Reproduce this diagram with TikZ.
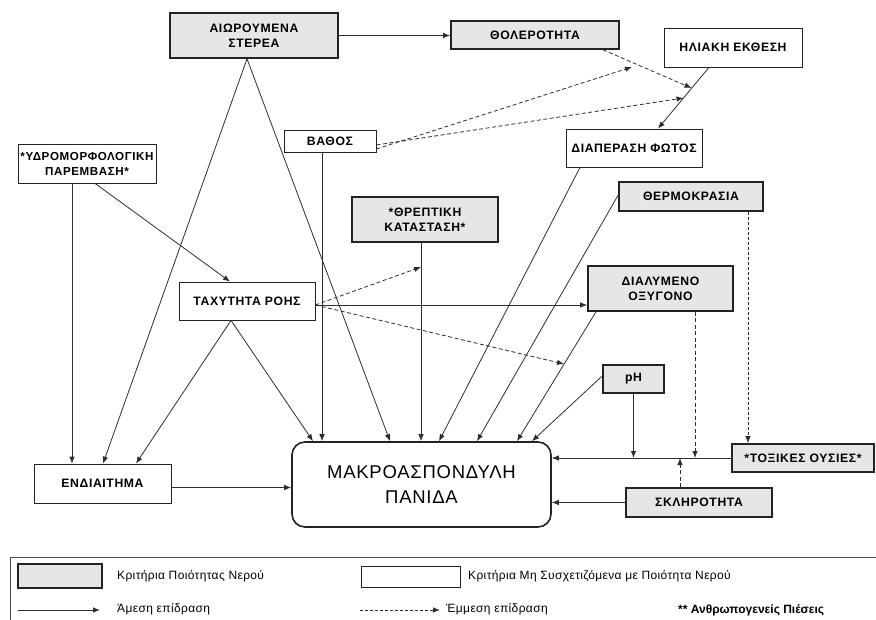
\documentclass[tikz,border=0pt]{standalone}
\usepackage{fontspec}
\setmainfont{Liberation Sans}
\newfontfamily\boxfont[LetterSpace=5.0]{Liberation Sans}
\newfontfamily\bigfont[LetterSpace=4.0]{Liberation Sans}
\newfontfamily\keyfont[LetterSpace=3.0]{Liberation Sans}
\usetikzlibrary{arrows.meta}

\definecolor{qgray}{RGB}{230,230,230}
\definecolor{edge}{RGB}{35,35,35}
\definecolor{wire}{RGB}{45,45,45}

\tikzset{
  qbox/.style={draw=edge, line width=1.6pt, fill=qgray, inner sep=0pt, align=center,
    font=\boxfont\bfseries\fontsize{12.2}{15}\selectfont},
  obox/.style={draw=edge, line width=0.8pt, fill=white, inner sep=0pt, align=center,
    font=\boxfont\bfseries\fontsize{12.2}{15}\selectfont},
  link/.style={draw=wire, line width=0.8pt, -{Latex[length=7pt,width=5.5pt]}},
  ilink/.style={link, dash pattern=on 4pt off 2.5pt},
  keytext/.style={anchor=west, inner sep=0pt, font=\keyfont\fontsize{12}{14}\selectfont}
}

\begin{document}
\begin{tikzpicture}[x=1pt,y=-1pt]
\useasboundingbox (0,0) rectangle (876,620);

% ---- criteria boxes ----
\node[qbox, minimum width=168pt, minimum height=45pt] (aio) at (254,35.5) {ΑΙΩΡΟΥΜΕΝΑ\\ΣΤΕΡΕΑ};
\node[qbox, minimum width=168pt, minimum height=28pt] (thol) at (535,35) {ΘΟΛΕΡΟΤΗΤΑ};
\node[obox, minimum width=138pt, minimum height=39pt] (ilia) at (733,47.5) {ΗΛΙΑΚΗ ΕΚΘΕΣΗ};
\node[obox, minimum width=92pt, minimum height=22pt] (vath) at (330,141) {ΒΑΘΟΣ};
\node[obox, minimum width=138pt, minimum height=39pt, font=\boxfont\bfseries\fontsize{11.6}{15}\selectfont] (ydro) at (87,163.5) {*ΥΔΡΟΜΟΡΦΟΛΟΓΙΚΗ\\ΠΑΡΕΜΒΑΣΗ*};
\node[obox, minimum width=136pt, minimum height=38pt] (diap) at (634,148) {ΔΙΑΠΕΡΑΣΗ ΦΩΤΟΣ};
\node[qbox, minimum width=144pt, minimum height=29pt] (therm) at (691,196.5) {ΘΕΡΜΟΚΡΑΣΙΑ};
\node[qbox, minimum width=146pt, minimum height=45pt] (threp) at (425,219.5) {*ΘΡΕΠΤΙΚΗ\\ΚΑΤΑΣΤΑΣΗ*};
\node[obox, minimum width=136pt, minimum height=38pt] (tax) at (247,301) {ΤΑΧΥΤΗΤΑ ΡΟΗΣ};
\node[qbox, minimum width=145pt, minimum height=45pt] (dial) at (660.5,288.5) {ΔΙΑΛΥΜΕΝΟ\\ΟΞΥΓΟΝΟ};
\node[qbox, minimum width=61pt, minimum height=28pt] (ph) at (633.5,379) {pH};
\node[qbox, minimum width=142pt, minimum height=28pt] (tox) at (803,458) {*ΤΟΞΙΚΕΣ ΟΥΣΙΕΣ*};
\node[qbox, minimum width=146pt, minimum height=29pt] (skl) at (699,502.5) {ΣΚΛΗΡΟΤΗΤΑ};
\node[obox, minimum width=137pt, minimum height=39pt] (end) at (102.5,483.5) {ΕΝΔΙΑΙΤΗΜΑ};
\node[draw=edge, line width=1.6pt, fill=white, rounded corners=13pt, inner sep=0pt, align=center,
  minimum width=259pt, minimum height=85pt,
  font=\bigfont\fontsize{18.5}{25}\selectfont] (makro) at (421.5,484.5) {ΜΑΚΡΟΑΣΠΟΝΔΥΛΗ\\ΠΑΝΙΔΑ};

% ---- points where arrows meet other connectors ----
\coordinate (onLightA) at (691.5,88);
\coordinate (onLightB) at (683.5,98);
\coordinate (onTurb) at (632,67);
\coordinate (onNutr) at (421,267);
\coordinate (onOxy) at (564,364);
\coordinate (onToxPh) at (633.5,458);
\coordinate (onToxOx) at (695,458);
\coordinate (onToxHard) at (680,458);

% ---- direct effects ----
\draw[link] (aio.east) -- (aio.east -| thol.west);
\draw[link] ([xshift=-7pt]aio.south) -- ([xshift=0.5pt]end.north);
\draw[link] ([xshift=-7pt]aio.south) -- ([xshift=-31.5pt]makro.north);
\draw[link] ([xshift=-15pt]ydro.south) -- ([xshift=-30.5pt]end.north);
\draw[link] ([xshift=8pt]ydro.south) -- ([xshift=-17pt]tax.north);
\draw[link] ([xshift=-16pt]tax.south) -- ([xshift=33.5pt]end.north);
\draw[link] ([xshift=-16pt]tax.south) -- ([xshift=-108.5pt]makro.north);
\draw[link] ([xshift=-8pt]vath.south) -- ([xshift=-99.5pt]makro.north);
\draw[link] ([xshift=-24pt]ilia.south) -- ([xshift=24pt]diap.north);
\draw[link] ([xshift=-54pt]diap.south) -- ([xshift=17.5pt]makro.north);
\draw[link] ([yshift=1.5pt]therm.west) -- ([xshift=55.5pt]makro.north);
\draw[link] ([yshift=-4pt]tax.east) -- ([yshift=-4pt]tax.east -| dial.west);
\draw[link] ([xshift=-4pt]threp.south) -- ([xshift=-0.5pt]makro.north);
\draw[link] ([xshift=-64.5pt]dial.south) -- ([xshift=95.5pt]makro.north);
\draw[link] ([yshift=3pt]ph.west) -- ([xshift=110.5pt]makro.north);
\draw[link] (ph.south) -- (onToxPh);
\draw[link] (tox.west) -- (tox.west -| makro.east);
\draw[link] (skl.west) -- (skl.west -| makro.east);
\draw[link] ([yshift=-4pt]end.east) -- ([yshift=-4pt]end.east -| makro.west);

% ---- indirect effects ----
\draw[ilink] ([yshift=-8pt]vath.east) -- (onTurb);
\draw[ilink] ([yshift=-4pt]vath.east) -- (onLightB);
\draw[ilink] ([xshift=68pt]thol.south) -- (onLightA);
\draw[ilink] ([yshift=-4pt]tax.east) -- (onNutr);
\draw[ilink] ([yshift=-4pt]tax.east) -- (onOxy);
\draw[ilink] ([xshift=34.5pt]dial.south) -- (onToxOx);
\draw[ilink, dash pattern=on 3pt off 2pt] ([xshift=57pt]therm.south) -- ([xshift=-55pt]tox.north);
\draw[ilink] ([xshift=-19pt]skl.north) -- (onToxHard);

% ---- legend ----
\draw[draw=wire!85, line width=0.8pt] (10,620) -- (10,557) -- (876,557);
\node[qbox, minimum width=84pt, minimum height=24pt] (keyq) at (60,576) {};
\node[keytext] (keyqt) at (117,576) {Κριτήρια Ποιότητας Νερού};
\node[obox, minimum width=99pt, minimum height=21pt] (keyo) at (410.5,576.5) {};
\node[keytext] (keyot) at (468,576) {Κριτήρια Μη Συσχετιζόμενα με Ποιότητα Νερού};
\coordinate (keyAa) at (18,610);
\coordinate (keyAb) at (100,610);
\draw[link] (keyAa) -- (keyAb);
\node[keytext] (keyat) at (117,609) {Άμεση επίδραση};
\coordinate (keyIa) at (360,610);
\coordinate (keyIb) at (440,610);
\draw[ilink, dash pattern=on 3pt off 2pt] (keyIa) -- (keyIb);
\node[keytext] (keyit) at (446,609) {Έμμεση επίδραση};
\node[anchor=west, inner sep=0pt, font=\bfseries\fontsize{12}{14}\selectfont] (keyp) at (678,610) {** Ανθρωπογενείς Πιέσεις};
\end{tikzpicture}
\end{document}
